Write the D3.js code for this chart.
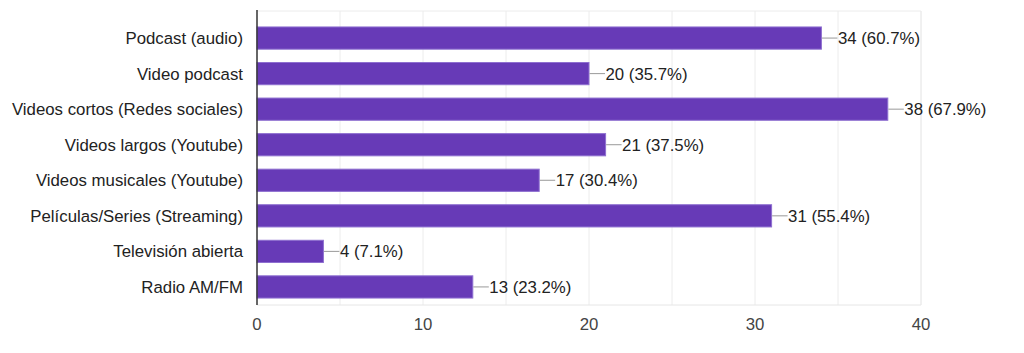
<!DOCTYPE html>
<html>
<head>
<meta charset="utf-8">
<script src="https://cdn.jsdelivr.net/npm/d3@7"></script>
<style>
  body { margin: 0; background: #fff; }
  text { font-family: "Liberation Sans", Arial, sans-serif; }
</style>
</head>
<body>
<div id="chart"></div>
<script>
var categories = [
    "Podcast (audio)",
    "Video podcast",
    "Videos cortos (Redes sociales)",
    "Videos largos (Youtube)",
    "Videos musicales (Youtube)",
    "Películas/Series (Streaming)",
    "Televisión abierta",
    "Radio AM/FM"
];
var counts = [34, 20, 38, 21, 17, 31, 4, 13];
var percents = ["60.7%", "35.7%", "67.9%", "37.5%", "30.4%", "55.4%", "7.1%", "23.2%"];
var xTicks = [0, 10, 20, 30, 40];
var gridValues = [5, 10, 15, 20, 25, 30, 35, 40];

var data = categories.map(function(c, i) {
    return {name: c, value: counts[i], pct: percents[i]};
});

var width = 1024, height = 353;
var svg = d3.select("#chart").append("svg")
    .attr("width", width)
    .attr("height", height);

var x = d3.scaleLinear().domain([0, 40]).range([257, 921]);
var y = d3.scaleBand().domain(categories).range([20.2, 304.8]).paddingInner(0.375).paddingOuter(0.19);

var gridTop = 11, gridBottom = 305;
var fs = "16.8px";

// grid lines
svg.append("g").selectAll("line")
    .data(gridValues)
    .enter().append("line")
    .attr("x1", d => x(d)).attr("x2", d => x(d))
    .attr("y1", gridTop).attr("y2", gridBottom)
    .attr("stroke", d => d === 40 ? "#e2e2e2" : "#ececec")
    .attr("stroke-width", 1);

// top and bottom border
svg.append("line")
    .attr("x1", x(0)).attr("x2", x(40))
    .attr("y1", gridTop).attr("y2", gridTop)
    .attr("stroke", "#ececec");
svg.append("line")
    .attr("x1", x(0)).attr("x2", x(40))
    .attr("y1", gridBottom).attr("y2", gridBottom)
    .attr("stroke", "#e6e6e6");

// bars
svg.append("g").selectAll("rect")
    .data(data)
    .enter().append("rect")
    .attr("x", x(0))
    .attr("y", d => y(d.name))
    .attr("width", d => x(d.value) - x(0))
    .attr("height", y.bandwidth())
    .attr("fill", "#673ab7")
    .attr("stroke", "#8e6fd0")
    .attr("stroke-width", 1);

// leader lines and value labels
var lab = svg.append("g");
lab.selectAll("line")
    .data(data)
    .enter().append("line")
    .attr("x1", d => x(d.value) + 0.5)
    .attr("x2", d => x(d.value) + 16)
    .attr("y1", d => y(d.name) + y.bandwidth() / 2)
    .attr("y2", d => y(d.name) + y.bandwidth() / 2)
    .attr("stroke", "#999")
    .attr("stroke-width", 1);
lab.selectAll("text")
    .data(data)
    .enter().append("text")
    .attr("x", d => x(d.value) + 16.5)
    .attr("y", d => y(d.name) + y.bandwidth() / 2)
    .attr("dy", "0.36em")
    .style("font-size", fs)
    .attr("fill", "#222")
    .text(d => d.value + " (" + d.pct + ")");

// category labels
svg.append("g").selectAll("text")
    .data(data)
    .enter().append("text")
    .attr("x", 243)
    .attr("y", d => y(d.name) + y.bandwidth() / 2)
    .attr("dy", "0.36em")
    .attr("text-anchor", "end")
    .style("font-size", fs)
    .attr("fill", "#222")
    .text(d => d.name);

// left axis line
svg.append("line")
    .attr("x1", x(0)).attr("x2", x(0))
    .attr("y1", gridTop - 1).attr("y2", gridBottom)
    .attr("stroke", "#333")
    .attr("stroke-width", 1.5);

// x tick labels
svg.append("g").selectAll("text")
    .data(xTicks)
    .enter().append("text")
    .attr("x", d => x(d))
    .attr("y", 324)
    .attr("dy", "0.36em")
    .attr("text-anchor", "middle")
    .style("font-size", fs)
    .attr("fill", "#444")
    .text(d => d);
</script>
</body>
</html>
